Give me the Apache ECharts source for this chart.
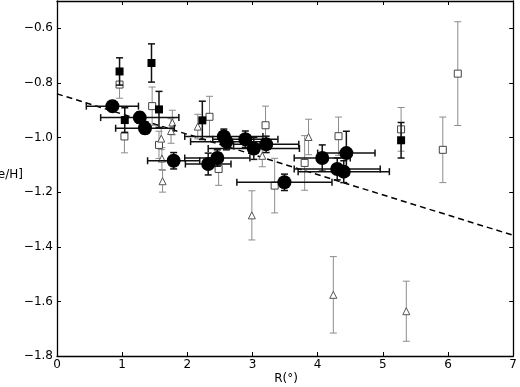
<!DOCTYPE html>
<html>
<head>
<meta charset="utf-8">
<script src="https://cdn.jsdelivr.net/npm/echarts@6/dist/echarts.min.js"></script>
<style>
  html, body { margin: 0; padding: 0; background: #fff; }
  #chart { width: 520px; height: 387px; }
</style>
</head>
<body>
<div id="chart"></div>
<script>
// filled circles (with R errors)
const circR = [0.85, 1.27, 1.35, 1.79, 2.32, 2.46, 2.56, 2.60, 2.89, 3.02, 3.21, 3.49, 4.07, 4.30, 4.40, 4.44]
const circFeH = [-0.885, -0.927, -0.966, -1.085, -1.097, -1.075, -0.996, -1.015, -1.006, -1.04, -1.025, -1.164, -1.075, -1.115, -1.125, -1.057]
const circRErr = [0.4, 0.6, 0.45, 0.4, 0.35, 0.5, 0.6, 0.55, 0.5, 0.7, 0.5, 0.73, 0.43, 0.66, 0.7, 0.44]
const circFeHErr = [0.02, 0.02, 0.02, 0.03, 0.04, 0.03, 0.027, 0.03, 0.03, 0.04, 0.03, 0.03, 0.048, 0.04, 0.04, 0.08]

// filled squares
const fsqR = [0.96, 1.04, 1.45, 1.565, 2.23, 5.28]
const fsqFeH = [-0.758, -0.936, -0.727, -0.897, -0.937, -1.01]
const fsqErr = [0.05, 0.045, 0.07, 0.066, 0.07, 0.065]

// open squares
const osqR = [0.96, 1.035, 1.46, 1.565, 2.34, 2.48, 3.2, 3.34, 3.80, 4.32, 5.28, 5.92, 6.15]
const osqFeH = [-0.806, -0.996, -0.885, -1.027, -0.924, -1.115, -0.955, -1.176, -1.093, -0.995, -0.97, -1.045, -0.766]
const osqErr = [0.05, 0.06, 0.07, 0.05, 0.075, 0.06, 0.07, 0.1, 0.1, 0.07, 0.08, 0.12, 0.19]

// open triangles
const triR = [1.60, 1.61, 1.62, 1.75, 1.77, 2.16, 2.99, 3.15, 3.86, 4.24, 5.36]
const triFeH = [-1.004, -1.077, -1.16, -0.976, -0.945, -0.96, -1.285, -1.067, -0.998, -1.576, -1.636]
const triErr = [0.04, 0.04, 0.04, 0.045, 0.045, 0.045, 0.09, 0.04, 0.065, 0.14, 0.11]

// gradient fit
const fitR = [0, 7]
const fitFeH = [-0.84, -1.358]

const xTicks = [0, 1, 2, 3, 4, 5, 6, 7]
const yTicks = [-1.8, -1.6, -1.4, -1.2, -1.0, -0.8, -0.6]

const font = 'DejaVu Sans'
const minus = (v) => String(v).replace('-', '\u2212')

// error bars drawn through the axes with caps
const errorBars = (xs, ys, xErr, yErr, color, width, z) => ({
  type: 'custom',
  z: z,
  silent: true,
  clip: true,
  encode: { x: 0, y: 1 },
  data: xs.map((x, i) => [x, ys[i], xErr ? xErr[i] : 0, yErr ? yErr[i] : 0]),
  renderItem: (params, api) => {
    const x = api.value(0), y = api.value(1), dx = api.value(2), dy = api.value(3)
    const style = { stroke: color, lineWidth: width }
    const cap = 3.5
    const kids = []
    const seg = (x1, y1, x2, y2) => kids.push({ type: 'line', shape: { x1, y1, x2, y2 }, style })
    if (dy > 0) {
      const t = api.coord([x, y + dy]), b = api.coord([x, y - dy])
      seg(t[0], t[1], b[0], b[1])
      seg(t[0] - cap, t[1], t[0] + cap, t[1])
      seg(b[0] - cap, b[1], b[0] + cap, b[1])
    }
    if (dx > 0) {
      const l = api.coord([x - dx, y]), r = api.coord([x + dx, y])
      seg(l[0], l[1], r[0], r[1])
      seg(l[0], l[1] - cap, l[0], l[1] + cap)
      seg(r[0], r[1] - cap, r[0], r[1] + cap)
    }
    return { type: 'group', children: kids }
  }
})

const chart = echarts.init(document.getElementById('chart'), null, { renderer: 'canvas' })

const axisCommon = {
  type: 'value',
  axisLine: { show: true, onZero: false, lineStyle: { color: '#000', width: 1.3 } },
  axisTick: { show: true, inside: true, length: 4, lineStyle: { color: '#000', width: 1 } },
  splitLine: { show: false }
}

chart.setOption({
  animation: false,
  backgroundColor: '#fff',
  grid: { left: 57, right: 4, top: 1, bottom: 31 },
  xAxis: [
    {
      ...axisCommon, position: 'bottom', min: 0, max: 7, interval: 1,
      axisLabel: { color: '#000', fontSize: 12, fontFamily: font, margin: 3 }
    },
    {
      ...axisCommon, position: 'top', min: 0, max: 7, interval: 1,
      axisLabel: { show: false }
    }
  ],
  yAxis: [
    {
      ...axisCommon, position: 'left', min: -1.8, max: -0.5, interval: 0.2,
      axisLabel: {
        color: '#000', fontSize: 12, fontFamily: font, margin: 4, showMaxLabel: false,
        formatter: (v) => yTicks.some(t => Math.abs(t - v) < 1e-6) ? minus(v.toFixed(1)) : ''
      }
    },
    {
      ...axisCommon, position: 'right', min: -1.8, max: -0.5, interval: 0.2,
      axisLabel: { show: false }
    }
  ],
  graphic: [
    { type: 'text', left: null, x: 23, y: 175, style: { text: '[Fe/H]', fill: '#000', font: '12px "DejaVu Sans"', textAlign: 'right', textVerticalAlign: 'middle' } },
    { type: 'text', x: 286, y: 379, style: { text: 'R(°)', fill: '#000', font: '12px "DejaVu Sans"', textAlign: 'center', textVerticalAlign: 'middle' } }
  ],
  series: [
    {
      type: 'line', z: 2, silent: true, symbol: 'none',
      data: fitR.map((r, i) => [r, fitFeH[i]]),
      lineStyle: { color: '#000', width: 1.5, type: [6, 4] }
    },
    errorBars(osqR, osqFeH, null, osqErr, '#8c8c8c', 1, 3),
    errorBars(triR, triFeH, null, triErr, '#8c8c8c', 1, 3),
    {
      type: 'scatter', z: 4, silent: true, symbol: 'rect', symbolSize: 7,
      data: osqR.map((r, i) => [r, osqFeH[i]]),
      itemStyle: { color: '#fff', borderColor: '#444', borderWidth: 1, opacity: 1 }
    },
    {
      type: 'scatter', z: 4, silent: true, symbol: 'triangle', symbolSize: 7,
      data: triR.map((r, i) => [r, triFeH[i]]),
      itemStyle: { color: '#fff', borderColor: '#555', borderWidth: 1, opacity: 1 }
    },
    errorBars(fsqR, fsqFeH, null, fsqErr, '#111', 1.5, 5),
    errorBars(circR, circFeH, circRErr, circFeHErr, '#111', 1.5, 5),
    {
      type: 'scatter', z: 6, silent: true, symbol: 'rect', symbolSize: 8,
      data: fsqR.map((r, i) => [r, fsqFeH[i]]),
      itemStyle: { color: '#000', opacity: 1 }
    },
    {
      type: 'scatter', z: 6, silent: true, symbol: 'circle', symbolSize: 14,
      data: circR.map((r, i) => [r, circFeH[i]]),
      itemStyle: { color: '#000', opacity: 1 }
    }
  ]
})
</script>
</body>
</html>
